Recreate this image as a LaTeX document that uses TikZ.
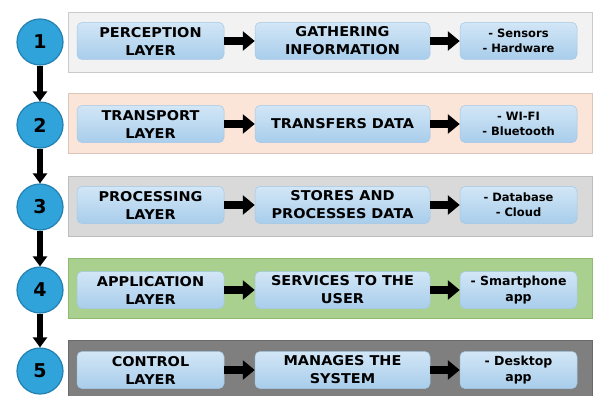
\documentclass[tikz,border=0pt]{standalone}
\usepackage{fontspec}
\setmainfont{DejaVu Sans}
\newfontfamily\hdr{DejaVu Sans}[FakeStretch=1.07]
\usetikzlibrary{arrows.meta}
\definecolor{circfill}{HTML}{2FA3DA}
\definecolor{circdraw}{HTML}{2380B0}
\definecolor{boxtop}{HTML}{D2E6F6}
\definecolor{boxbot}{HTML}{A8CDEB}
\definecolor{boxdraw}{HTML}{A3C8E6}
\definecolor{bandA}{HTML}{F2F2F2}
\definecolor{bandAd}{HTML}{CACACA}
\definecolor{bandB}{HTML}{FBE4D8}
\definecolor{bandBd}{HTML}{DCC6BA}
\definecolor{bandC}{HTML}{D9D9D9}
\definecolor{bandCd}{HTML}{BDBDBD}
\definecolor{bandD}{HTML}{A9D08E}
\definecolor{bandDd}{HTML}{8FBA72}
\definecolor{bandE}{HTML}{7F7F7F}
\definecolor{bandEd}{HTML}{6A6A6A}
\tikzset{
  band/.style={line width=0.8pt, inner sep=0pt, minimum width=524pt, minimum height=60pt, anchor=west},
  circ/.style={circle, fill=circfill, draw=circdraw, line width=1.2pt, minimum size=46pt, inner sep=0pt, font=\bfseries\fontsize{19}{19}\selectfont},
  layerbox/.style={rounded corners=5pt, top color=boxtop, bottom color=boxbot, draw=boxdraw, line width=0.5pt, minimum height=37pt, inner sep=0pt, align=center, font=\hdr\bfseries\fontsize{13.5}{18}\selectfont},
  smallbox/.style={layerbox, minimum width=117pt, font=\bfseries\fontsize{11.5}{15}\selectfont},
  appbox/.style={layerbox, minimum width=117pt, font=\bfseries\fontsize{12.5}{16.5}\selectfont},
  harrow/.style={line width=8.5pt, -{Triangle[length=12pt,width=19pt]}},
  varrow/.style={line width=6pt, -{Triangle[length=10pt,width=14pt]}},
}
\begin{document}
\begin{tikzpicture}[x=1pt,y=-1pt]
\useasboundingbox (0,0) rectangle (594,396);
% bands
\node[band, fill=bandA, draw=bandAd] (bd1) at (68,42) {};
\node[band, fill=bandB, draw=bandBd] (bd2) at (68,123) {};
\node[band, fill=bandC, draw=bandCd] (bd3) at (68,206) {};
\node[band, fill=bandD, draw=bandDd] (bd4) at (68,288) {};
\node[band, fill=bandE, draw=bandEd, minimum height=62pt] (bd5) at (68,371) {};
% circles
\node[circ] (c1) at (40,42) {1};
\node[circ] (c2) at (40,125) {2};
\node[circ] (c3) at (40,207) {3};
\node[circ] (c4) at (40,290) {4};
\node[circ] (c5) at (40,371) {5};
\draw[varrow] (c1) -- (c2);
\draw[varrow] (c2) -- (c3);
\draw[varrow] (c3) -- (c4);
\draw[varrow] (c4) -- (c5);
% row 1
\node[layerbox, minimum width=147pt] (a1) at (150.5,41) {PERCEPTION\\LAYER};
\node[layerbox, minimum width=175pt] (b1) at (342.5,41) {GATHERING\\INFORMATION};
\node[smallbox] (d1) at (518.5,41) {- Sensors\\- Hardware};
% row 2
\node[layerbox, minimum width=147pt] (a2) at (150.5,124) {TRANSPORT\\LAYER};
\node[layerbox, minimum width=175pt] (b2) at (342.5,124) {TRANSFERS DATA};
\node[smallbox] (d2) at (518.5,124) {- WI-FI\\- Bluetooth};
% row 3
\node[layerbox, minimum width=147pt] (a3) at (150.5,205) {PROCESSING\\LAYER};
\node[layerbox, minimum width=175pt] (b3) at (342.5,205) {STORES AND\\PROCESSES DATA};
\node[smallbox] (d3) at (518.5,205) {- Database\\- Cloud};
% row 4
\node[layerbox, minimum width=147pt] (a4) at (150.5,290) {APPLICATION\\LAYER};
\node[layerbox, minimum width=175pt] (b4) at (342.5,290) {SERVICES TO THE\\USER};
\node[appbox] (d4) at (518.5,290) {- Smartphone\\app};
% row 5
\node[layerbox, minimum width=147pt] (a5) at (150.5,370) {CONTROL\\LAYER};
\node[layerbox, minimum width=175pt] (b5) at (342.5,370) {MANAGES THE\\SYSTEM};
\node[appbox] (d5) at (518.5,370) {- Desktop\\app};
% horizontal arrows
\foreach \i in {1,...,5}{
  \draw[harrow] (a\i.east) -- (b\i.west);
  \draw[harrow] (b\i.east) -- (d\i.west);
}
\end{tikzpicture}
\end{document}
